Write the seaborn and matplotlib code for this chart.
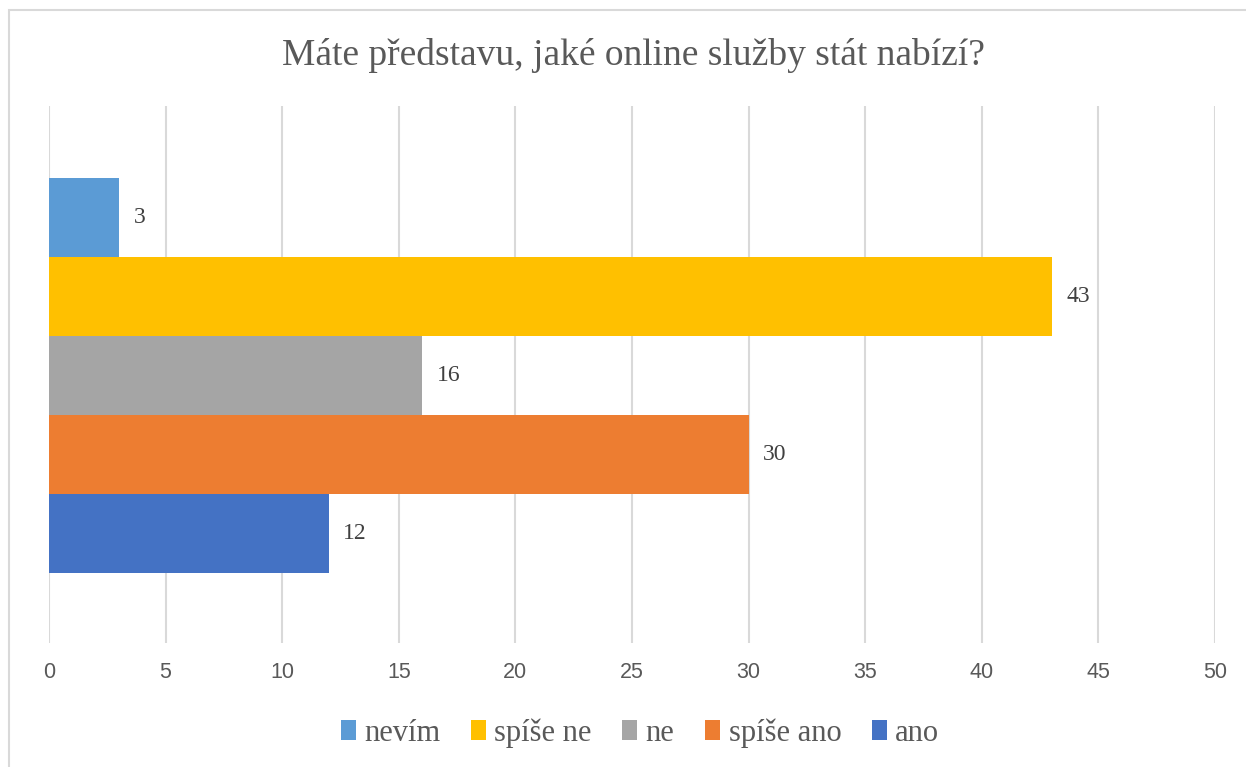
import matplotlib
matplotlib.use("Agg")
import matplotlib.pyplot as plt
import seaborn as sns
from matplotlib.patches import Patch, Rectangle

answers = ["nevím", "spíše ne", "ne", "spíše ano", "ano"]
counts = [3, 43, 16, 30, 12]
colors = ["#5B9BD5", "#FFC000", "#A5A5A5", "#ED7D31", "#4472C4"]
xticks = list(range(0, 55, 5))

sns.set_theme(style="white")
plt.rcParams["font.family"] = ["Liberation Sans", "DejaVu Sans"]

W, H = 1246, 767
fig = plt.figure(figsize=(W / 100, H / 100), dpi=100)
ax = fig.add_axes([49 / W, (H - 643) / H, (1215 - 49) / W, (643 - 106) / H])

# outer chart frame (cropped on right/bottom)
fig.patches.append(Rectangle((9 / W, -0.1), 1.2, (H - 10) / H + 0.1,
                             transform=fig.transFigure, fill=False,
                             edgecolor="#D9D9D9", linewidth=1.5))

sns.barplot(x=counts, y=answers, hue=answers, palette=colors, orient="h",
            width=1.0, legend=False, saturation=1, linewidth=0, ax=ax)

ax.set_xlim(0, 50)
ax.set_ylim(5.386, -1.41)
ax.set_xticks(xticks)
ax.set_xticklabels([str(t) for t in xticks], fontsize=15.5, color="#595959")
ax.set_yticks([])
ax.set_ylabel("")
ax.tick_params(axis="x", length=0, pad=14)
for s in ax.spines.values():
    s.set_visible(False)
ax.grid(axis="x", color="#D9D9D9", linewidth=1.5)
ax.set_axisbelow(True)

for i, v in enumerate(counts):
    ax.text(v + 0.62, i, str(v), va="center", ha="left",
            fontsize=17, color="#404040", family="Liberation Serif")

fig.text(634 / W, (H - 65) / H, "Máte představu, jaké online služby stát nabízí?",
         ha="center", va="baseline", fontsize=27, color="#595959",
         family="Liberation Serif")

handles = [Patch(facecolor=c, edgecolor="none") for c in colors]
leg = fig.legend(handles, answers, loc="center", bbox_to_anchor=(640 / W, (H - 733) / H),
                 ncol=5, frameon=False, handlelength=0.5, handleheight=0.6,
                 handletextpad=0.27, columnspacing=1.0,
                 prop={"family": "Liberation Serif", "size": 22})
for t in leg.get_texts():
    t.set_color("#595959")

fig.savefig("out.png", dpi=100)
